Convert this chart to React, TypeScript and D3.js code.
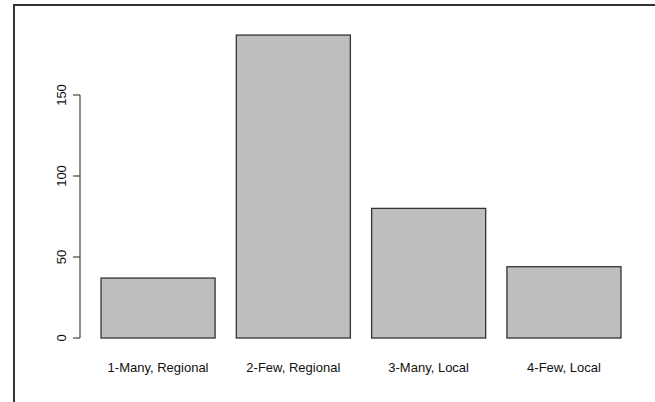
import React from "react";
import * as d3 from "d3";

const categories = ["1-Many, Regional", "2-Few, Regional", "3-Many, Local", "4-Few, Local"];
const counts = [37, 187, 80, 44];
const yTicks = [0, 50, 100, 150];

const W = 655;
const H = 402;

export default function App() {
  const y = d3.scaleLinear().domain([0, 150]).range([338, 95]);
  const x = d3
    .scaleBand<string>()
    .domain(categories)
    .range([90.4, 631.6])
    .paddingInner(0.157)
    .paddingOuter(0.0785);
  const font = "'Liberation Sans', Arial, sans-serif";
  return (
    <svg
      width={W}
      height={H}
      style={{ position: "absolute", left: 0, top: 0, background: "#fff" }}
    >
      <rect x={0} y={0} width={W} height={H} fill="#fff" />
      {/* frame */}
      <path d={`M14,${H} L14,5 L${W},5`} fill="none" stroke="#333" strokeWidth={2} />
      {/* bars */}
      {categories.map((c, i) => (
        <rect
          key={c}
          x={x(c)!}
          y={y(counts[i])}
          width={x.bandwidth()}
          height={y(0) - y(counts[i])}
          fill="#bebebe"
          stroke="#333"
          strokeWidth={1.3}
        />
      ))}
      {/* y axis */}
      <g stroke="#444" strokeWidth={1.2} fill="none">
        <line x1={80} x2={80} y1={y(0)} y2={y(150)} />
        {yTicks.map((t) => (
          <line key={t} x1={73} x2={80} y1={y(t)} y2={y(t)} />
        ))}
      </g>
      {yTicks.map((t) => (
        <text
          key={t}
          transform={`translate(66,${y(t)}) rotate(-90)`}
          textAnchor="middle"
          fontFamily={font}
          fontSize={13}
          fill="#111"
        >
          {t}
        </text>
      ))}
      {/* x labels */}
      {categories.map((c) => (
        <text
          key={c}
          x={x(c)! + x.bandwidth() / 2}
          y={372}
          textAnchor="middle"
          fontFamily={font}
          fontSize={13}
          fill="#111"
        >
          {c}
        </text>
      ))}
    </svg>
  );
}
